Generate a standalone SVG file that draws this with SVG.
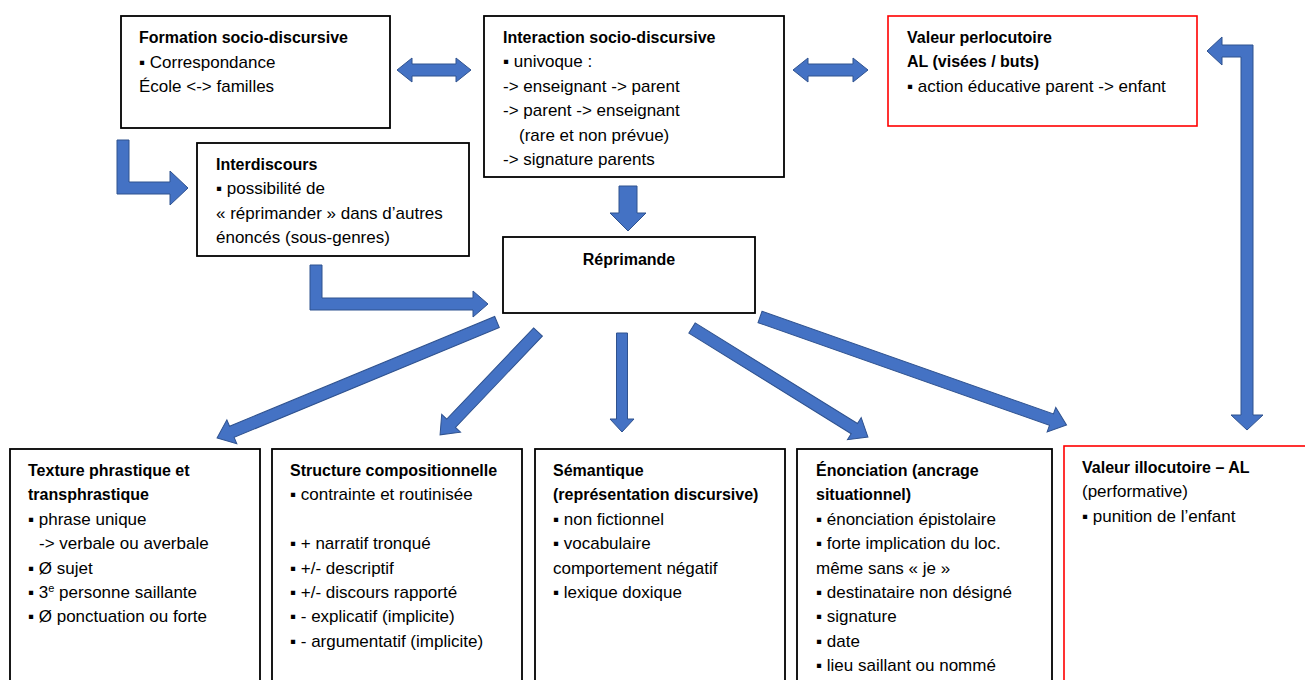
<svg xmlns="http://www.w3.org/2000/svg" width="1305" height="680" viewBox="0 0 1305 680">
<style>
.box{fill:#fff;stroke:#000;stroke-width:1.8}
.red{fill:#fff;stroke:#f00;stroke-width:1.6}
.t{font-family:"Liberation Sans",Arial,"DejaVu Sans",sans-serif;font-size:17px;fill:#000}
.b{font-weight:bold;font-size:16px}
.arr{fill:#4472C4;stroke:#2F528F;stroke-width:1;stroke-linejoin:miter}
</style>
<rect width="1305" height="680" fill="#fff"/>

<g id="connectors">
  <polygon class="arr" points="397,70 412,58 412,64 456,64 456,58 471,70 456,82 456,76 412,76 412,82"/>
  <polygon class="arr" points="793,70 808,58 808,64 853,64 853,58 868,70 853,82 853,76 808,76 808,82"/>
  <polygon class="arr" points="117,140 129,140 129,182 170,182 170,171 188,188 170,205 170,194 117,194"/>
  <polygon class="arr" points="310,265 322,265 322,298 473,298 473,291 488,304 473,317 473,310 310,310"/>
  <polygon class="arr" points="619,186 637,186 637,213 646,213 628,231 610,213 619,213"/>
  <polygon class="arr" transform="translate(497,322) rotate(157.5)" points="0,-6 287,-6 287,-13 303,0 287,13 287,6 0,6"/>
  <polygon class="arr" transform="translate(538,332) rotate(133.6)" points="0,-6 126,-6 126,-13 142,0 126,13 126,6 0,6"/>
  <polygon class="arr" transform="translate(622,333) rotate(90)" points="0,-5.5 86,-5.5 86,-12 99,0 86,12 86,5.5 0,5.5"/>
  <polygon class="arr" transform="translate(692,328) rotate(31.8)" points="0,-6 191,-6 191,-13 207,0 191,13 191,6 0,6"/>
  <polygon class="arr" transform="translate(760,317) rotate(19.4)" points="0,-6 309,-6 309,-13 325,0 309,13 309,6 0,6"/>
  <polygon class="arr" points="1207,51 1222,37 1222,45 1253,45 1253,415 1263,415 1247,430 1231,415 1241,415 1241,57 1222,57 1222,65"/>
</g>

<g id="formation">
  <rect class="box" x="121" y="16" width="269" height="112"/>
  <text class="t" x="139" y="43"><tspan class="b">Formation socio-discursive</tspan><tspan x="139" dy="24.5">▪ Correspondance</tspan><tspan x="139" dy="24.5">École &lt;-&gt; familles</tspan></text>
</g>

<g id="interaction">
  <rect class="box" x="484" y="16" width="300" height="161"/>
  <text class="t" x="503" y="43"><tspan class="b">Interaction socio-discursive</tspan><tspan x="503" dy="24.4">▪ univoque :</tspan><tspan x="503" dy="24.4">-&gt; enseignant -&gt; parent</tspan><tspan x="503" dy="24.4">-&gt; parent -&gt; enseignant</tspan><tspan x="519" dy="24.4">(rare et non prévue)</tspan><tspan x="503" dy="24.4">-&gt; signature parents</tspan></text>
</g>

<g id="perlocutoire">
  <rect class="red" x="888" y="16" width="309" height="110"/>
  <text class="t" x="907" y="43"><tspan class="b">Valeur perlocutoire</tspan><tspan class="b" x="907" dy="24.4">AL (visées / buts)</tspan><tspan x="907" dy="24.4">▪ action éducative parent -&gt; enfant</tspan></text>
</g>

<g id="interdiscours">
  <rect class="box" x="197" y="143" width="272" height="113"/>
  <text class="t" x="216" y="170"><tspan class="b">Interdiscours</tspan><tspan x="216" dy="24.4">▪ possibilité de</tspan><tspan x="216" dy="24.4">« réprimander » dans d’autres</tspan><tspan x="216" dy="24.4">énoncés (sous-genres)</tspan></text>
</g>

<g id="reprimande">
  <rect class="box" x="503" y="237" width="252" height="76"/>
  <text class="t b" x="629" y="265" text-anchor="middle">Réprimande</text>
</g>

<g id="texture">
  <rect class="box" x="10" y="449" width="250" height="260"/>
  <text class="t" x="28" y="476"><tspan class="b">Texture phrastique et</tspan><tspan class="b" x="28" dy="24.4">transphrastique</tspan><tspan x="28" dy="24.4">▪ phrase unique</tspan><tspan x="39" dy="24.4">-&gt; verbale ou averbale</tspan><tspan x="28" dy="24.4">▪ Ø sujet</tspan><tspan x="28" dy="24.4">▪ 3<tspan font-size="11" dy="-6">e</tspan><tspan dy="6"> personne saillante</tspan></tspan><tspan x="28" dy="24.4">▪ Ø ponctuation ou forte</tspan></text>
</g>

<g id="structure">
  <rect class="box" x="272" y="449" width="250" height="260"/>
  <text class="t" x="290" y="476"><tspan class="b">Structure compositionnelle</tspan><tspan x="290" dy="24.4">▪ contrainte et routinisée</tspan><tspan x="290" dy="48.8">▪ + narratif tronqué</tspan><tspan x="290" dy="24.4">▪ +/- descriptif</tspan><tspan x="290" dy="24.4">▪ +/- discours rapporté</tspan><tspan x="290" dy="24.4">▪ - explicatif (implicite)</tspan><tspan x="290" dy="24.4">▪ - argumentatif (implicite)</tspan></text>
</g>

<g id="semantique">
  <rect class="box" x="535" y="449" width="250" height="260"/>
  <text class="t" x="553" y="476"><tspan class="b">Sémantique</tspan><tspan class="b" x="553" dy="24.4">(représentation discursive)</tspan><tspan x="553" dy="24.4">▪ non fictionnel</tspan><tspan x="553" dy="24.4">▪ vocabulaire</tspan><tspan x="553" dy="24.4">comportement négatif</tspan><tspan x="553" dy="24.4">▪ lexique doxique</tspan></text>
</g>

<g id="enonciation">
  <rect class="box" x="797" y="449" width="255" height="260"/>
  <text class="t" x="816" y="476"><tspan class="b">Énonciation (ancrage</tspan><tspan class="b" x="816" dy="24.4">situationnel)</tspan><tspan x="816" dy="24.4">▪ énonciation épistolaire</tspan><tspan x="816" dy="24.4">▪ forte implication du loc.</tspan><tspan x="816" dy="24.4">même sans « je »</tspan><tspan x="816" dy="24.4">▪ destinataire non désigné</tspan><tspan x="816" dy="24.4">▪ signature</tspan><tspan x="816" dy="24.4">▪ date</tspan><tspan x="816" dy="24.4">▪ lieu saillant ou nommé</tspan></text>
</g>

<g id="illocutoire">
  <rect class="red" x="1064" y="446" width="260" height="260"/>
  <text class="t" x="1082" y="473"><tspan class="b">Valeur illocutoire – AL</tspan><tspan x="1082" dy="24.4">(performative)</tspan><tspan x="1082" dy="24.4">▪ punition de l’enfant</tspan></text>
</g>
</svg>
